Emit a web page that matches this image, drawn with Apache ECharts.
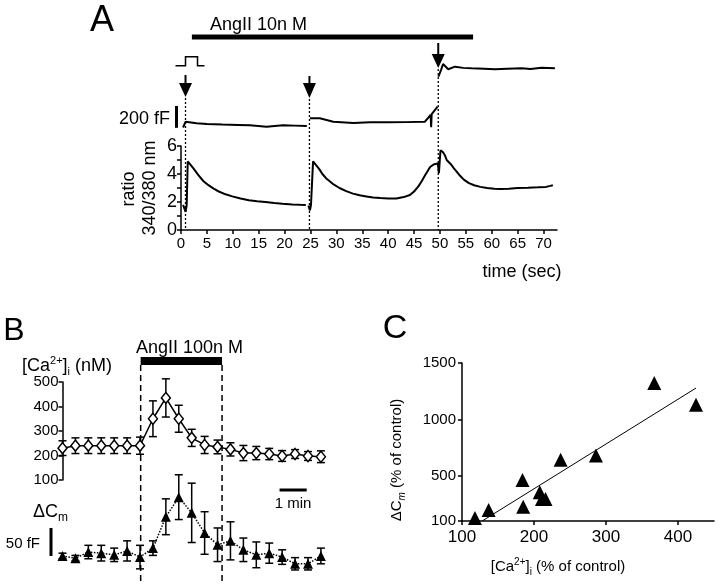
<!DOCTYPE html>
<html>
<head>
<meta charset="utf-8">
<script src="https://cdn.jsdelivr.net/npm/echarts@6.0.0/dist/echarts.min.js"></script>
<style>
html,body{margin:0;padding:0;background:#fff;}
#chart{width:720px;height:584px;}
</style>
</head>
<body>
<div id="chart"></div>
<script>
// ---------- Panel A : ratio 340/380 trace (null = gap in the trace) ----------
const ratioTime = [0.4,0.9,1.1,1.3,1.6,2.4,3.0,3.4,4.3,5.3,6.3,7.3,8.6,9.9,11.5,13.1,14.7,16.3,18.0,19.6,21.5,23.0,24.1,24.4,
  24.6,24.9,25.1,25.5,25.8,26.7,27.3,28.0,29.3,30.6,31.9,33.2,34.5,35.8,37.1,38.5,40.0,41.6,43.0,44.2,45.0,45.8,46.5,47.1,48.1,48.9,
  49.6,49.8,50.1,50.6,51.0,51.3,51.5,52.1,52.7,53.7,54.6,55.6,56.6,57.8,59.1,60.5,61.7,63.3,65.0,67.0,68.9,70.5,71.3,71.8];
const ratioValue = [1.8,1.3,1.8,4.9,5.0,4.4,4.1,3.9,3.5,3.2,2.95,2.75,2.55,2.4,2.25,2.12,2.05,2.0,1.93,1.87,1.83,1.8,1.78,null,
  1.75,1.4,1.8,4.9,4.95,4.35,4.0,3.7,3.3,3.0,2.78,2.6,2.48,2.4,2.32,2.28,2.25,2.25,2.35,2.5,2.75,3.1,3.5,3.9,4.5,4.7,
  4.75,4.05,5.7,5.55,5.3,5.0,5.1,4.7,4.4,3.95,3.6,3.35,3.2,3.08,3.0,2.95,2.92,2.95,3.0,3.02,3.05,3.08,3.15,3.2];
// ---------- Panel A : membrane capacitance trace (fF, relative) ----------
const capTime = [0.4,0.7,0.9,1.2,3.0,5.0,8.0,11.0,13.3,16.5,19.7,22.0,24.3,24.6,
  24.9,26.8,29.4,33.3,36.5,40.0,43.5,47.1,47.4,48.2,48.3,48.4,48.7,49.55,49.6,
  49.7,50.2,50.6,51.6,52.9,54.5,56.1,58.5,60.6,63.0,65.8,67.5,69.6,72.2];
const capValue = [23,18,76,80,62,55,50,46,43,30,43,40,37,null,
  107,107,76,64,70,70,72,76,67,137,25,146,153,213,null,
  487,548,603,555,579,568,564,560,555,560,564,558,570,564];
const timeTicks = [0,5,10,15,20,25,30,35,40,45,50,55,60,65,70];
const ratioTicks = [0,1,2,3,4,5,6];
const ratioLabels = [0,2,4,6];
const stimTimes = [0.87,24.8,49.67];
const angIIA = [2.1,56.4];

// ---------- Panel B ----------
const bIndex = [0,1,2,3,4,5,6,7,8,9,10,11,12,13,14,15,16,17,18,19,20];
const caMean = [230,240,240,240,240,240,240,350,435,350,272,243,235,225,210,210,206,198,206,198,195];
const caSem  = [30,32,32,32,32,32,35,73,78,55,35,35,28,27,31,27,23,22,18,18,24];
const dcmMean = [9,5,16,14,11,18,7,23,79,114,86,50,29,36,20,11,14,7,-5,-5,9];
const dcmSem  = [5,5,12,14,12,18,21,13,32,40,53,38,30,34,21,23,18,13,11,11,14];
const caTicks = [100,200,300,400,500];
const angIIB = [6.05,12.35];
const minuteBar = [16.8,18.9];

// ---------- Panel C ----------
const caPct = [118,137,184,185,208,211,216,237,286,367,425];
const cmPct = [127,198,464,227,355,295,295,642,680,1323,1130];
const fitCa = [128,425];
const fitCm = [100,1278];
const cXTicks = [100,200,300,400];
const cYTicks = [100,500,1000,1500];

const F = '"Liberation Sans", Arial, Helvetica, sans-serif';
const K = '#000';

function errBar(params, api) {
  const x = api.value(0), lo = api.value(1), hi = api.value(2);
  const a = api.coord([x, lo]), b = api.coord([x, hi]);
  const w = 4, st = {stroke: K, lineWidth: 1.5};
  return {type: 'group', children: [
    {type: 'line', shape: {x1: a[0], y1: a[1], x2: b[0], y2: b[1]}, style: st},
    {type: 'line', shape: {x1: b[0]-w, y1: b[1], x2: b[0]+w, y2: b[1]}, style: st},
    {type: 'line', shape: {x1: a[0]-w, y1: a[1], x2: a[0]+w, y2: a[1]}, style: st}
  ]};
}
function hidden(gi, min, max) {
  return {type: 'value', gridIndex: gi, min: min, max: max, show: false, splitLine: {show: false}};
}
function shownAxis(gi, min, max, tickVals, labelVals, fs, margin) {
  return {type: 'value', gridIndex: gi, min: min, max: max,
    axisLine: {show: true, onZero: false, lineStyle: {color: K, width: 1.5}},
    axisTick: {show: true, length: 4, customValues: tickVals, lineStyle: {color: K, width: 1.5}},
    axisLabel: {show: true, customValues: labelVals, color: K, fontFamily: F, fontSize: fs, margin: margin,
      formatter: v => String(v)},
    splitLine: {show: false}};
}

const chart = echarts.init(document.getElementById('chart'));
const option = {
  animation: false,
  backgroundColor: '#fff',
  grid: [
    {left: 181, top: 146, width: 376, height: 84},
    {left: 181, top: 60, width: 376, height: 70},
    {left: 62.5, top: 382, width: 258.4, height: 98},
    {left: 62.5, top: 470, width: 258.4, height: 105},
    {left: 462, top: 363, width: 252, height: 158}
  ],
  xAxis: [
    shownAxis(0, 0, 72.6, timeTicks, timeTicks, 15, 6),
    hidden(1, 0, 72.6),
    hidden(2, 0, 20),
    hidden(3, 0, 20),
    shownAxis(4, 100, 450, cXTicks, cXTicks, 17, 8)
  ],
  yAxis: [
    shownAxis(0, 0, 6, ratioTicks, ratioLabels, 18, 4),
    hidden(1, 0, 640),
    shownAxis(2, 100, 500, caTicks, caTicks, 15, 4),
    hidden(3, -25, 162.5),
    shownAxis(4, 100, 1500, cYTicks, cYTicks, 15, 6)
  ],
  series: [
    {type: 'line', xAxisIndex: 0, yAxisIndex: 0, showSymbol: false, connectNulls: false,
      lineStyle: {color: K, width: 2},
      data: ratioTime.map((t, i) => [t, ratioValue[i] === null ? '-' : ratioValue[i]])},
    {type: 'line', xAxisIndex: 1, yAxisIndex: 1, showSymbol: false, connectNulls: false,
      lineStyle: {color: K, width: 2},
      data: capTime.map((t, i) => [t, capValue[i] === null ? '-' : capValue[i]])},
    {type: 'custom', xAxisIndex: 2, yAxisIndex: 2, renderItem: errBar, encode: {x: 0, y: [1, 2]}, z: 2,
      data: bIndex.map((x, i) => [x, caMean[i] - caSem[i], caMean[i] + caSem[i]])},
    {type: 'line', xAxisIndex: 2, yAxisIndex: 2, symbol: 'diamond', symbolSize: [9, 11], z: 5,
      lineStyle: {color: K, width: 1.5},
      itemStyle: {color: '#fff', borderColor: K, borderWidth: 1.5},
      data: bIndex.map((x, i) => [x, caMean[i]])},
    {type: 'custom', xAxisIndex: 3, yAxisIndex: 3, renderItem: errBar, encode: {x: 0, y: [1, 2]}, z: 2,
      data: bIndex.map((x, i) => [x, dcmMean[i] - dcmSem[i], dcmMean[i] + dcmSem[i]])},
    {type: 'line', xAxisIndex: 3, yAxisIndex: 3, symbol: 'triangle', symbolSize: 10, z: 5,
      lineStyle: {color: K, width: 1.5, type: 'dotted'},
      itemStyle: {color: K, opacity: 1},
      data: bIndex.map((x, i) => [x, dcmMean[i]])},
    {type: 'scatter', xAxisIndex: 4, yAxisIndex: 4, symbol: 'triangle', symbolSize: 14,
      itemStyle: {color: K, opacity: 1},
      data: caPct.map((x, i) => [x, cmPct[i]])},
    {type: 'line', xAxisIndex: 4, yAxisIndex: 4, showSymbol: false,
      lineStyle: {color: K, width: 1},
      data: fitCa.map((x, i) => [x, fitCm[i]])}
  ]
};
chart.setOption(option);

const pxA = t => chart.convertToPixel({gridIndex: 0}, [t, 0])[0];
const capY = v => chart.convertToPixel({gridIndex: 1}, [0, v])[1];
const pxB = i => chart.convertToPixel({gridIndex: 2}, [i, 100])[0];
const dcmY = v => chart.convertToPixel({gridIndex: 3}, [0, v])[1];

function txt(x, y, text, size, align, extra) {
  const st = Object.assign({text: text, font: 'normal ' + size + 'px ' + F, fill: K,
    align: align, verticalAlign: 'middle', textAlign: align, textVerticalAlign: 'middle'}, extra || {});
  return {type: 'text', x: x, y: y, style: st, silent: true};
}
function rect(x, y, w, h) { return {type: 'rect', shape: {x: x, y: y, width: w, height: h}, style: {fill: K}, silent: true}; }
function seg(x1, y1, x2, y2, w, dash) {
  return {type: 'line', shape: {x1: x1, y1: y1, x2: x2, y2: y2}, style: {stroke: K, lineWidth: w, lineDash: dash || null}, silent: true};
}
function arrow(x, top, headTop, tip) {
  return [seg(x, top, x, headTop + 2, 2),
    {type: 'polygon', shape: {points: [[x - 6.5, headTop], [x + 6.5, headTop], [x, tip]]}, style: {fill: K}, silent: true}];
}

const G = [];
// Panel A
G.push(txt(102, 21, 'A', 36, 'center'));
G.push(txt(210, 25, 'AngII 10n M', 18, 'left'));
G.push(rect(pxA(angIIA[0]), 34.5, pxA(angIIA[1]) - pxA(angIIA[0]), 5));
const s0 = pxA(stimTimes[0]);
G.push({type: 'polyline', shape: {points: [[s0 - 10, 65.7], [s0, 65.7], [s0, 56.7], [s0 + 12, 56.7], [s0 + 12, 65.7], [s0 + 19, 65.7]]},
  style: {stroke: K, lineWidth: 1.5, fill: null}, silent: true});
const arrowY = [[75, 83, 97], [76, 83, 98], [43, 54, 68]];
stimTimes.forEach((t, i) => {
  const x = pxA(t);
  arrow(x, arrowY[i][0], arrowY[i][1], arrowY[i][2]).forEach(e => G.push(e));
  G.push(seg(x, arrowY[i][2] + 1, x, 230, 1.3, [2, 2]));
});
G.push(rect(175, capY(220), 3, capY(20) - capY(220)));
G.push(txt(170, 119, '200 fF', 18, 'right'));
G.push(Object.assign(txt(129, 189, 'ratio', 18, 'center'), {rotation: Math.PI / 2}));
G.push(Object.assign(txt(150, 188, '340/380 nm', 18, 'center'), {rotation: Math.PI / 2}));
G.push(txt(522, 272, 'time (sec)', 18, 'center'));

// Panel B
G.push(txt(14, 331, 'B', 32, 'center'));
G.push(txt(136, 348, 'AngII 100n M', 18, 'left'));
G.push(rect(pxB(angIIB[0]), 357, pxB(angIIB[1]) - pxB(angIIB[0]), 8));
angIIB.forEach(i => G.push(seg(pxB(i), 365, pxB(i), 584, 1.5, [6, 4])));
G.push(txt(22, 366, '[Ca{sup|2+}]{sub|i} (nM)', 18, 'left', {rich: {
  sup: {font: 'normal 11px ' + F, fill: K, verticalAlign: 'top', lineHeight: 22},
  sub: {font: 'normal 11px ' + F, fill: K, verticalAlign: 'bottom', lineHeight: 22}}}));
G.push(txt(33, 512, 'ΔC{sub|m}', 18, 'left', {rich: {
  sub: {font: 'normal 12px ' + F, fill: K, verticalAlign: 'bottom', lineHeight: 24}}}));
G.push(rect(49.5, dcmY(59), 3, dcmY(9) - dcmY(59)));
G.push(txt(40, 544, '50 fF', 15, 'right'));
G.push(rect(pxB(minuteBar[0]), 488.5, pxB(minuteBar[1]) - pxB(minuteBar[0]), 3));
G.push(txt((pxB(minuteBar[0]) + pxB(minuteBar[1])) / 2, 504, '1 min', 15, 'center'));

// Panel C
G.push(txt(395, 329, 'C', 34, 'center'));
G.push(Object.assign(txt(397, 460, 'ΔC{m|m} (% of control)', 15, 'center', {rich: {
  m: {font: 'italic 10px ' + F, fill: K, verticalAlign: 'bottom', lineHeight: 20}}}), {rotation: Math.PI / 2}));
G.push(txt(558, 567, '[Ca{sup|2+}]{sub|i} (% of control)', 15, 'center', {rich: {
  sup: {font: 'normal 10px ' + F, fill: K, verticalAlign: 'top', lineHeight: 20},
  sub: {font: 'normal 10px ' + F, fill: K, verticalAlign: 'bottom', lineHeight: 20}}}));

chart.setOption({graphic: {elements: G}});
</script>
</body>
</html>
